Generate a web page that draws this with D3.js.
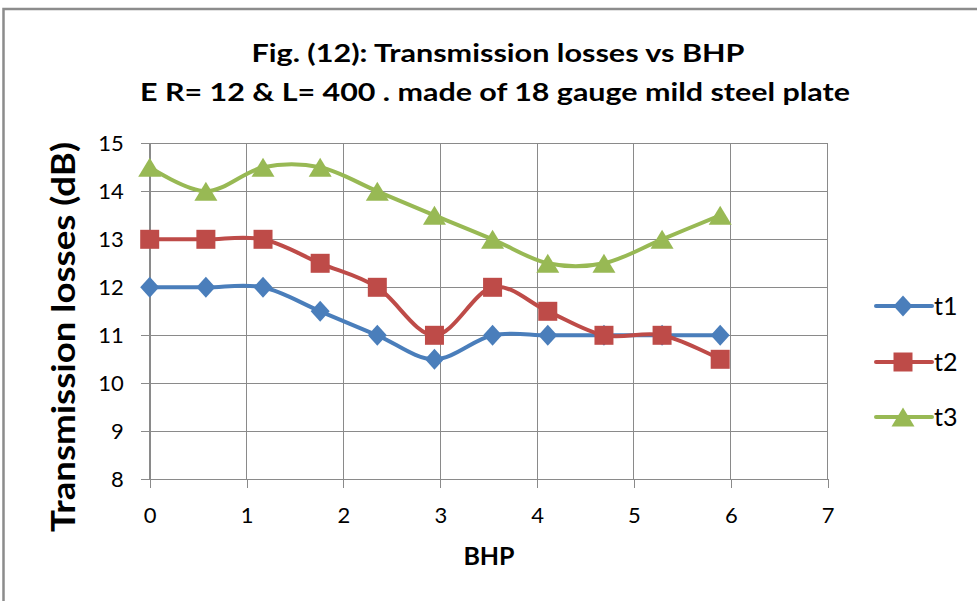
<!DOCTYPE html>
<html lang="en">
<head>
<meta charset="UTF-8">
<script src="https://cdnjs.cloudflare.com/ajax/libs/d3/7.8.5/d3.min.js"></script>
<style>
  body { margin: 0; background: #fff; }
  svg { display: block; font-family: Lato, "Open Sans", sans-serif; }
  .grid line { stroke: #8a8a8a; stroke-width: 1; shape-rendering: crispEdges; }
  .axis path, .axis line { stroke: #8a8a8a; shape-rendering: crispEdges; }
  .axis text { font-size: 22px; fill: #000; font-family: Lato, "Open Sans", sans-serif; }
</style>
</head>
<body>
<script>
// data
var bhp = [0, 0.58, 1.17, 1.76, 2.35, 2.94, 3.54, 4.11, 4.69, 5.29, 5.89];
var t1 = [12, 12, 12, 11.5, 11, 10.5, 11, 11, 11, 11, 11];
var t2 = [13, 13, 13, 12.5, 12, 11, 12, 11.5, 11, 11, 10.5];
var t3 = [14.5, 14, 14.5, 14.5, 14, 13.5, 13, 12.5, 12.5, 13, 13.5];
var seriesNames = ["t1", "t2", "t3"];
var xTicks = [0, 1, 2, 3, 4, 5, 6, 7];
var yTicks = [8, 9, 10, 11, 12, 13, 14, 15];

var W = 977, H = 601;
var colors = ["#4a7ebb", "#be4b48", "#98b954"];
// marker outlines, centred on the point
var shapes = [
  "M0,-10.5L9.5,0L0,10.5L-9.5,0Z",
  "M-9.5,-9.5H9.5V9.5H-9.5Z",
  "M0,-9.5L11.5,9.5H-11.5Z"
];

var svg = d3.select("body").append("svg")
    .attr("width", W)
    .attr("height", H);

// outer frame (only left and top visible)
svg.append("path")
    .attr("d", "M3.5,601 V9 H977")
    .attr("fill", "none")
    .attr("stroke", "#8c8c8c")
    .attr("stroke-width", 2.5);

var x = d3.scaleLinear().domain([0, 7]).range([149.7, 827.7]);
var y = d3.scaleLinear().domain([8, 15]).range([479.3, 143.3]);

// grid
var grid = svg.append("g").attr("class", "grid");
grid.selectAll(".h").data(yTicks).enter().append("line")
    .attr("x1", x(0)).attr("x2", x(7))
    .attr("y1", d => y(d)).attr("y2", d => y(d));
grid.selectAll(".v").data(xTicks).enter().append("line")
    .attr("x1", d => x(d)).attr("x2", d => x(d))
    .attr("y1", y(8)).attr("y2", y(15));

svg.append("g")
    .attr("class", "axis")
    .attr("transform", "translate(0," + y(8) + ")")
    .call(d3.axisBottom(x).tickValues(xTicks).tickFormat(d3.format("d"))
      .tickSize(9).tickSizeOuter(0).tickPadding(19));

svg.append("g")
    .attr("class", "axis")
    .attr("transform", "translate(" + x(0) + ",0)")
    .call(d3.axisLeft(y).tickValues(yTicks).tickFormat(d3.format("d"))
      .tickSize(9).tickSizeOuter(0).tickPadding(17));

var data = [t1, t2, t3].map((vals, i) => ({
  name: seriesNames[i],
  pts: vals.map((v, j) => ({ x: bhp[j], y: v }))
}));

var line = d3.line()
    .x(d => x(d.x))
    .y(d => y(d.y))
    .curve(d3.curveCardinal);

data.forEach(function(s, i) {
  svg.append("path")
      .attr("d", line(s.pts))
      .attr("fill", "none")
      .attr("stroke", colors[i])
      .attr("stroke-width", 4)
      .attr("stroke-linejoin", "round");
});

data.forEach(function(s, i) {
  svg.selectAll(".m" + i).data(s.pts).enter().append("path")
      .attr("transform", d => "translate(" + x(d.x) + "," + y(d.y) + ")")
      .attr("d", shapes[i])
      .attr("fill", colors[i]);
});

// legend
var legend = svg.selectAll(".legend").data(seriesNames).enter().append("g")
    .attr("transform", (d, i) => "translate(0," + [306, 362, 417][i] + ")");
legend.append("line")
    .attr("x1", 876).attr("x2", 932)
    .attr("stroke", (d, i) => colors[i])
    .attr("stroke-width", 4)
    .attr("stroke-linecap", "round");
legend.append("path")
    .attr("transform", "translate(903,0)")
    .attr("d", (d, i) => shapes[i])
    .attr("fill", (d, i) => colors[i]);
legend.append("text")
    .attr("x", 934).attr("y", 9)
    .style("font-size", "25px")
    .text(d => d);

// titles
svg.append("text")
    .attr("x", 498).attr("y", 62)
    .attr("text-anchor", "middle")
    .style("font-size", "25px").style("font-weight", "bold")
    .attr("textLength", 493).attr("lengthAdjust", "spacingAndGlyphs")
    .text("Fig. (12): Transmission  losses vs BHP");
svg.append("text")
    .attr("x", 495).attr("y", 101)
    .attr("text-anchor", "middle")
    .style("font-size", "25px").style("font-weight", "bold")
    .attr("textLength", 710).attr("lengthAdjust", "spacingAndGlyphs")
    .text("E R= 12 & L= 400 . made of 18 gauge mild steel plate");

svg.append("text")
    .attr("x", 489).attr("y", 565)
    .attr("text-anchor", "middle")
    .style("font-size", "25px").style("font-weight", "bold")
    .text("BHP");

svg.append("text")
    .attr("transform", "translate(75,337) rotate(-90)")
    .attr("text-anchor", "middle")
    .style("font-size", "32px").style("font-weight", "bold")
    .attr("textLength", 390).attr("lengthAdjust", "spacingAndGlyphs")
    .text("Transmission losses (dB)");
</script>
</body>
</html>
